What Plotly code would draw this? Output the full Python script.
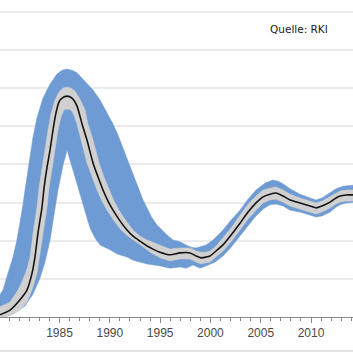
import plotly.graph_objects as go

# ---- data (x = year, y = new infections in thousands) ----
center_year = [1979.0, 1980.08, 1981.07, 1981.77, 1982.27, 1982.56, 1982.86, 1983.26, 1983.46, 1983.76,
               1984.06, 1984.35, 1984.65, 1984.95, 1985.25, 1985.75, 1986.24, 1986.74, 1987.24, 1987.73,
               1988.33, 1988.83, 1989.32, 1989.82, 1990.32, 1991.01, 1991.71, 1992.31, 1993.00, 1993.70,
               1994.29, 1994.99, 1995.98, 1996.98, 1997.97, 1998.57, 1999.07, 1999.56, 1999.96, 2000.56,
               2001.25, 2002.05, 2002.94, 2003.74, 2004.53, 2005.23, 2005.92, 2006.52, 2007.22, 2007.91,
               2008.91, 2009.90, 2010.50, 2011.09, 2011.89, 2012.48, 2012.88, 2013.48, 2014.3]
center_val = [0.05, 0.18, 0.45, 0.71, 1.15, 1.57, 2.20, 2.88, 3.38, 3.93,
              4.38, 4.90, 5.35, 5.64, 5.74, 5.79, 5.74, 5.53, 5.06, 4.64,
              4.04, 3.67, 3.33, 3.04, 2.80, 2.52, 2.28, 2.12, 1.99, 1.86,
              1.78, 1.70, 1.63, 1.68, 1.68, 1.60, 1.55, 1.57, 1.60, 1.73,
              1.89, 2.15, 2.46, 2.75, 2.99, 3.15, 3.22, 3.25, 3.17, 3.07,
              2.99, 2.91, 2.86, 2.91, 3.01, 3.12, 3.17, 3.20, 3.20]

inner_hi_year = [1979.0, 1980.08, 1980.77, 1981.27, 1981.77, 1982.07, 1982.37, 1982.76, 1982.96, 1983.26,
                 1983.56, 1983.86, 1984.15, 1984.55, 1984.95, 1985.35, 1985.75, 1986.14, 1986.54, 1987.04,
                 1987.53, 1987.83, 1988.33, 1988.93, 1989.42, 1989.92, 1990.42, 1990.91, 1991.61, 1992.31,
                 1993.00, 1993.70, 1994.49, 1995.19, 1995.98, 1996.98, 1997.97, 1998.57, 1999.07, 1999.56,
                 1999.96, 2000.56, 2001.25, 2002.05, 2002.94, 2003.74, 2004.53, 2005.23, 2005.92, 2006.52,
                 2007.22, 2007.91, 2008.91, 2009.90, 2010.50, 2011.09, 2011.89, 2012.48, 2012.88, 2013.48,
                 2014.3]
inner_hi_val = [0.26, 0.39, 0.66, 0.92, 1.26, 1.57, 2.20, 2.88, 3.38, 3.93,
                4.38, 4.90, 5.32, 5.69, 5.90, 6.00, 6.03, 6.00, 5.92, 5.71,
                5.43, 5.06, 4.64, 4.04, 3.67, 3.33, 3.04, 2.80, 2.52, 2.28,
                2.12, 2.02, 1.94, 1.86, 1.78, 1.81, 1.81, 1.73, 1.70, 1.70,
                1.73, 1.86, 2.07, 2.33, 2.67, 2.96, 3.17, 3.33, 3.38, 3.41,
                3.33, 3.22, 3.12, 3.04, 2.99, 3.04, 3.15, 3.25, 3.30, 3.33,
                3.33]

inner_lo_year = [1979.0, 1980.08, 1981.07, 1981.77, 1982.27, 1982.76, 1983.06, 1983.36, 1983.76, 1983.96,
                 1984.25, 1984.55, 1984.85, 1985.15, 1985.45, 1985.75, 1986.14, 1986.44, 1986.74, 1987.14,
                 1987.73, 1988.23, 1988.73, 1989.22, 1989.72, 1990.42, 1991.11, 1991.81, 1992.51, 1993.20,
                 1994.00, 1994.99, 1995.98, 1996.98, 1997.97, 1998.57, 1999.07, 1999.56, 1999.96, 2000.56,
                 2001.25, 2002.05, 2002.94, 2003.74, 2004.53, 2005.23, 2005.92, 2006.52, 2007.22, 2007.91,
                 2008.91, 2009.90, 2010.50, 2011.09, 2011.89, 2012.48, 2012.88, 2013.48, 2014.3]
inner_lo_val = [0.00, 0.03, 0.18, 0.39, 0.71, 1.15, 1.57, 2.20, 2.88, 3.38,
                3.93, 4.38, 4.90, 5.24, 5.43, 5.45, 5.43, 5.29, 5.06, 4.64,
                4.04, 3.67, 3.33, 3.04, 2.80, 2.52, 2.28, 2.12, 1.99, 1.86,
                1.70, 1.55, 1.47, 1.52, 1.52, 1.44, 1.39, 1.42, 1.44, 1.57,
                1.73, 1.97, 2.28, 2.57, 2.80, 2.99, 3.07, 3.09, 3.01, 2.91,
                2.83, 2.75, 2.70, 2.75, 2.86, 2.96, 3.01, 3.04, 3.04]

outer_hi_year = [1979.0, 1979.38, 1979.88, 1980.38, 1980.77, 1981.07, 1981.37, 1981.57, 1981.97, 1982.37,
                 1982.76, 1983.36, 1984.06, 1984.75, 1985.25, 1985.75, 1986.24, 1986.74, 1987.24, 1987.73,
                 1988.33, 1989.03, 1989.72, 1990.32, 1990.81, 1991.31, 1991.81, 1992.31, 1992.80, 1993.30,
                 1993.70, 1994.19, 1994.69, 1995.29, 1995.69, 1996.28, 1996.98, 1997.57, 1998.07, 1998.57,
                 1999.07, 1999.56, 2000.26, 2001.25, 2002.05, 2002.94, 2003.74, 2004.53, 2005.43, 2006.22,
                 2006.72, 2007.22, 2007.91, 2008.91, 2009.90, 2010.50, 2011.09, 2011.89, 2012.48, 2013.18,
                 2014.3]
outer_hi_val = [0.55, 0.71, 1.15, 1.57, 2.02, 2.46, 2.94, 3.33, 4.06, 4.72,
                5.22, 5.74, 6.11, 6.37, 6.47, 6.50, 6.47, 6.40, 6.26, 6.13,
                5.95, 5.69, 5.37, 5.06, 4.77, 4.43, 4.06, 3.72, 3.41, 3.07,
                2.86, 2.60, 2.41, 2.25, 2.15, 2.02, 1.97, 1.89, 1.83, 1.81,
                1.86, 1.89, 2.02, 2.28, 2.54, 2.80, 3.09, 3.33, 3.51, 3.59,
                3.56, 3.49, 3.36, 3.22, 3.12, 3.07, 3.12, 3.25, 3.36, 3.43,
                3.46]

outer_lo_year = [1979.0, 1980.38, 1981.57, 1982.37, 1983.06, 1983.56, 1984.06, 1984.45, 1984.85, 1985.35,
                 1985.75, 1986.04, 1986.34, 1986.84, 1987.34, 1987.73, 1988.03, 1988.53, 1989.03, 1990.02,
                 1990.72, 1991.71, 1992.31, 1993.70, 1994.99, 1995.98, 1996.98, 1997.57, 1998.27, 1998.97,
                 1999.56, 2000.46, 2001.25, 2002.05, 2002.94, 2003.74, 2004.53, 2005.23, 2005.92, 2006.52,
                 2007.22, 2007.91, 2008.91, 2009.90, 2010.50, 2011.09, 2011.89, 2012.48, 2012.88, 2013.48,
                 2014.3]
outer_lo_val = [-0.05, 0.08, 0.29, 0.60, 1.02, 1.44, 2.02, 2.67, 3.33, 3.98,
                4.38, 4.12, 3.85, 3.41, 2.99, 2.60, 2.33, 2.07, 1.89, 1.76,
                1.65, 1.57, 1.49, 1.39, 1.34, 1.28, 1.31, 1.28, 1.36, 1.28,
                1.34, 1.44, 1.60, 1.83, 2.12, 2.39, 2.65, 2.83, 2.94, 2.96,
                2.91, 2.80, 2.75, 2.67, 2.62, 2.65, 2.75, 2.88, 2.94, 2.99,
                3.01]

major_ticks = [1985, 1990, 1995, 2000, 2005, 2010]
major_labels = ["1985", "1990", "1995", "2000", "2005", "2010"]
source_text = "Quelle: RKI"

# ---- styles ----
BLUE = "#6e9bd3"
GRAY = "#d0d0d0"
LINE = "#141414"

fig = go.Figure()

fig.add_trace(go.Scatter(
    x=outer_hi_year + outer_lo_year[::-1],
    y=outer_hi_val + outer_lo_val[::-1],
    fill="toself", fillcolor=BLUE, mode="lines",
    line=dict(width=0.5, color=BLUE), hoverinfo="skip", showlegend=False))

fig.add_trace(go.Scatter(
    x=inner_hi_year + inner_lo_year[::-1],
    y=inner_hi_val + inner_lo_val[::-1],
    fill="toself", fillcolor=GRAY, mode="lines",
    line=dict(width=0.5, color=GRAY), hoverinfo="skip", showlegend=False))

fig.add_trace(go.Scatter(
    x=center_year, y=center_val, mode="lines",
    line=dict(color=LINE, width=1.6, shape="spline", smoothing=0.6),
    hoverinfo="skip", showlegend=False))

fig.add_annotation(
    x=0.935, y=0.9085, xref="paper", yref="paper",
    xanchor="right", yanchor="middle", showarrow=False,
    text=source_text, font=dict(family="DejaVu Sans, Verdana", size=10.5, color="#1a1a1a"))

fig.add_shape(type="line", xref="paper", yref="paper", x0=0, x1=1, y0=-0.107, y1=-0.107,
              line=dict(color="#e4e4e4", width=2))

fig.update_layout(
    width=353, height=353,
    margin=dict(l=0, r=0, t=0, b=36),
    paper_bgcolor="white", plot_bgcolor="white",
    xaxis=dict(
        range=[1979.085, 2014.17],
        tickmode="array", tickvals=major_ticks, ticktext=major_labels,
        ticks="outside", ticklen=5, tickwidth=1, tickcolor="#8a8a8a",
        showline=True, linecolor="#8a8a8a", linewidth=1,
        showgrid=False, zeroline=False,
        tickfont=dict(family="Arial, Liberation Sans", size=12, color="#4a4a4a"),
        minor=dict(dtick=1, tick0=1979, ticks="outside", ticklen=3, tickcolor="#8a8a8a", showgrid=False),
    ),
    yaxis=dict(
        range=[0, 8.31],
        tickmode="linear", tick0=0, dtick=1,
        showticklabels=False, ticks="",
        showgrid=True, gridcolor="#ebebeb", gridwidth=2,
        zeroline=False, showline=False,
    ),
)

fig.write_html("out.html")
